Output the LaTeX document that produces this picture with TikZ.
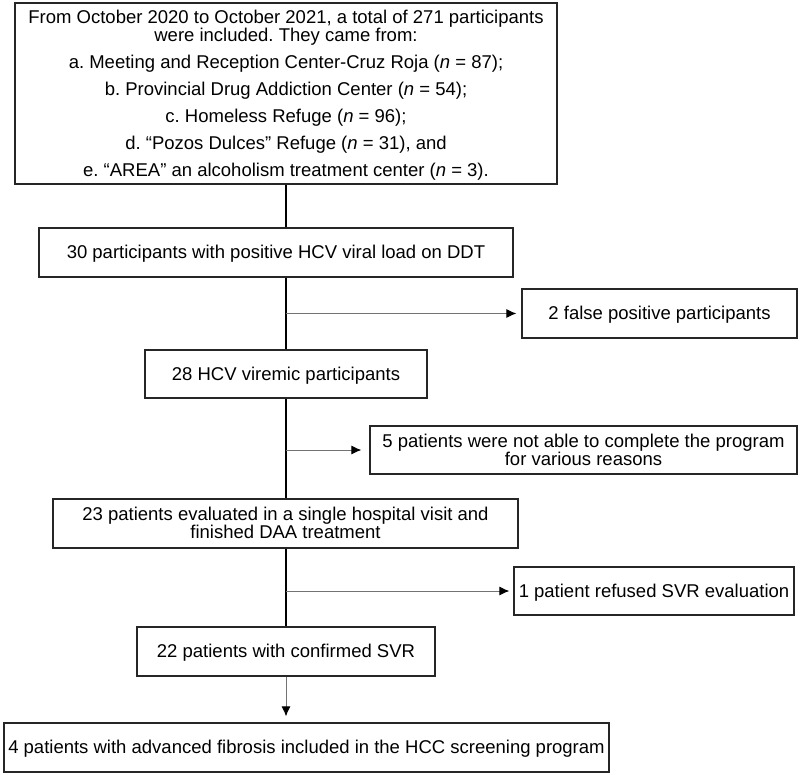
\documentclass[tikz,border=0pt]{standalone}
\usepackage{fontspec}
\setmainfont{Liberation Sans}
\usetikzlibrary{arrows.meta}
\frenchspacing
\begin{document}
\begin{tikzpicture}[x=1pt, y=-1pt, inner sep=2pt,
    font=\fontsize{18.5}{18}\selectfont,
    box/.style={draw=black!85, line width=1.2pt, align=center, minimum height=49pt, text depth=1pt},
    side/.style={draw=black!55, line width=1pt, -{Latex[length=10pt,width=9pt,color=black]}, shorten >=5pt}]
  \useasboundingbox (0,0) rectangle (800,775);
  \node[box, minimum width=542pt, minimum height=181pt] (a) at (286,93.5) {From October 2020 to October 2021, a total of 271 participants\\
    were included. They came from:\\[9pt]
    a. Meeting and Reception Center-Cruz Roja (\textit{n} = 87);\\[9pt]
    b. Provincial Drug Addiction Center (\textit{n} = 54);\\[9pt]
    c. Homeless Refuge (\textit{n} = 96);\\[9pt]
    d. “Pozos Dulces” Refuge (\textit{n} = 31), and\\[9pt]
    e. “AREA” an alcoholism treatment center (\textit{n} = 3).};
  \node[box, minimum width=474pt] (b) at (276,252.5) {30 participants with positive HCV viral load on DDT};
  \node[box, minimum width=275pt] (fp) at (659.5,313.5) {2 false positive participants};
  \node[box, minimum width=282pt, minimum height=48pt] (c) at (286,374) {28 HCV viremic participants};
  \node[box, minimum width=427pt, minimum height=48pt] (nc) at (583.5,450) {5 patients were not able to complete the program\\for various reasons};
  \node[box, minimum width=465pt] (d) at (285.5,523.5) {23 patients evaluated in a single hospital visit and\\finished DAA treatment};
  \node[box, minimum width=280pt, minimum height=48pt] (rf) at (654,591) {1 patient refused SVR evaluation};
  \node[box, minimum width=298pt] (e) at (286,651.5) {22 patients with confirmed SVR};
  \node[box, minimum width=605pt] (f) at (306.5,747.5) {4 patients with advanced fibrosis included in the HCC screening program};
  % main line
  \draw[line width=1.3pt] (a.south) -- (a.south |- b.north);
  \draw[line width=1.3pt] (a.south |- b.south) -- (a.south |- c.north);
  \draw[line width=1.3pt] (a.south |- c.south) -- (a.south |- d.north);
  \draw[line width=1.3pt] (a.south |- d.south) -- (a.south |- e.north);
  \draw[side, shorten >=6pt] (a.south |- e.south) -- (a.south |- f.north);
  % exclusions
  \draw[side] (a.south |- fp.west) -- (fp.west);
  \draw[side, shorten >=8pt] (a.south |- nc.west) -- (nc.west);
  \draw[side, shorten >=4pt] (a.south |- rf.west) -- (rf.west);
\end{tikzpicture}
\end{document}
